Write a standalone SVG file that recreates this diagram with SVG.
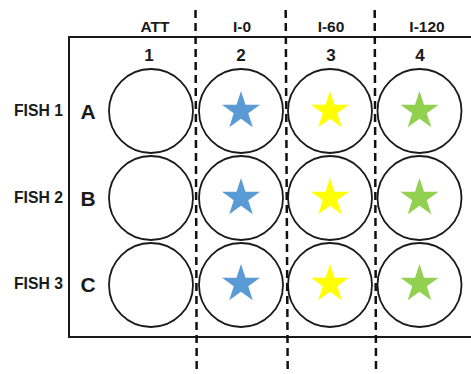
<svg xmlns="http://www.w3.org/2000/svg" width="471" height="374" viewBox="0 0 471 374">
<style>
text{font-family:"Liberation Sans",Arial,sans-serif;font-weight:bold;fill:#1a1a1a;text-anchor:middle}
.hdr{font-size:15.5px}
.num{font-size:17px}
.row{font-size:21px}
.fish{font-size:17px;text-anchor:start}
.well{fill:#fff;stroke:#1a1a1a;stroke-width:1.8}
.dash{stroke:#111;stroke-width:2.5;stroke-dasharray:8 5;fill:none}
.plate{fill:none;stroke:#1a1a1a;stroke-width:2}
</style>
<defs>
<path id="star" d="M0,-20 L4.49,-6.18 L19.02,-6.18 L7.27,2.36 L11.76,16.18 L0,7.64 L-11.76,16.18 L-7.27,2.36 L-19.02,-6.18 L-4.49,-6.18 Z"/>
</defs>
<rect width="471" height="374" fill="#fff"/>
<path class="plate" d="M480,37 H69 V337 H480"/>
<g id="headers">
<text class="hdr" x="155" y="32">ATT</text>
<text class="hdr" x="242" y="32">I-0</text>
<text class="hdr" x="331" y="32">I-60</text>
<text class="hdr" x="427" y="32">I-120</text>
<text class="num" x="149" y="61">1</text>
<text class="num" x="241" y="61">2</text>
<text class="num" x="331" y="61">3</text>
<text class="num" x="420" y="61">4</text>
</g>
<g id="rows">
<text class="fish" x="14" y="116" textLength="49" lengthAdjust="spacingAndGlyphs">FISH 1</text>
<text class="fish" x="14" y="203" textLength="49" lengthAdjust="spacingAndGlyphs">FISH 2</text>
<text class="fish" x="14" y="289" textLength="49" lengthAdjust="spacingAndGlyphs">FISH 3</text>
<text class="row" x="88" y="119">A</text>
<text class="row" x="88" y="206">B</text>
<text class="row" x="88" y="292">C</text>
</g>
<g id="wells">
<g id="A1"><circle class="well" cx="151" cy="111" r="42"/></g>
<g id="A2"><circle class="well" cx="241" cy="111" r="42"/><use href="#star" x="241" y="111" fill="#5B9BD5"/></g>
<g id="A3"><circle class="well" cx="330" cy="111" r="42"/><use href="#star" x="330" y="111" fill="#FFFF00"/></g>
<g id="A4"><circle class="well" cx="419.5" cy="111" r="42"/><use href="#star" x="419.5" y="111" fill="#92D050"/></g>
<g id="B1"><circle class="well" cx="151" cy="198" r="42"/></g>
<g id="B2"><circle class="well" cx="241" cy="198" r="42"/><use href="#star" x="241" y="198" fill="#5B9BD5"/></g>
<g id="B3"><circle class="well" cx="330" cy="198" r="42"/><use href="#star" x="330" y="198" fill="#FFFF00"/></g>
<g id="B4"><circle class="well" cx="419.5" cy="198" r="42"/><use href="#star" x="419.5" y="198" fill="#92D050"/></g>
<g id="C1"><circle class="well" cx="151" cy="285" r="42"/></g>
<g id="C2"><circle class="well" cx="241" cy="285" r="42"/><use href="#star" x="241" y="284" fill="#5B9BD5"/></g>
<g id="C3"><circle class="well" cx="330" cy="285" r="42"/><use href="#star" x="330" y="284" fill="#FFFF00"/></g>
<g id="C4"><circle class="well" cx="419.5" cy="285" r="42"/><use href="#star" x="419.5" y="284" fill="#92D050"/></g>
</g>
<g id="connectors">
<line class="dash" x1="195.5" y1="10" x2="196.7" y2="374"/>
<line class="dash" x1="285.7" y1="10" x2="287.7" y2="374"/>
<line class="dash" x1="374.7" y1="10" x2="376" y2="374"/>
</g>
</svg>
